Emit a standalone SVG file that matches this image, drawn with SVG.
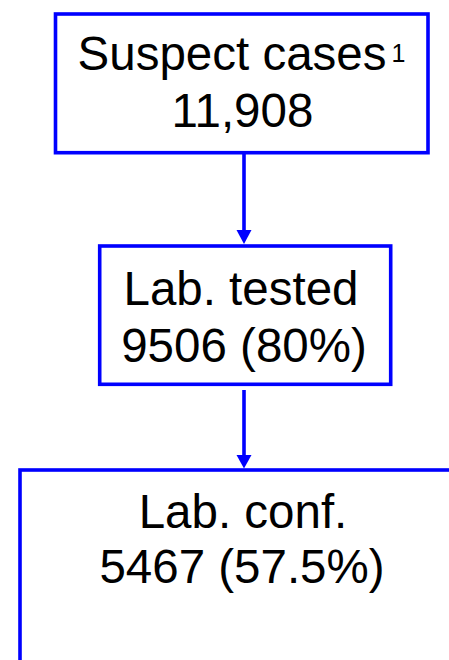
<svg xmlns="http://www.w3.org/2000/svg" width="449" height="660" viewBox="0 0 449 660">
<style>
.box{fill:#fff;stroke:#0000ff;stroke-width:3.6}
.lbl{font-family:"Liberation Sans",Arial,Helvetica,sans-serif;font-size:47.5px;fill:#000;text-anchor:middle}
.sup{font-size:25px}
.conn{stroke:#0000ff;stroke-width:3.6;fill:none}
.head{fill:#0000ff}
</style>
<rect width="449" height="660" fill="#fff"/>
<g id="node-suspect">
<rect class="box" x="55.5" y="14" width="372.5" height="138.7"/>
<text class="lbl" x="241.5" y="70">Suspect cases<tspan class="sup" dx="5" dy="-8">1</tspan></text>
<text class="lbl" x="242.5" y="127">11,908</text>
</g>
<g id="node-tested">
<rect class="box" x="99.7" y="246" width="291" height="138.3"/>
<text class="lbl" x="241" y="305">Lab. tested</text>
<text class="lbl" x="244" y="362">9506 (80%)</text>
</g>
<g id="node-confirmed">
<rect class="box" x="20" y="470" width="460" height="220"/>
<text class="lbl" x="243" y="528">Lab. conf.</text>
<text class="lbl" x="242" y="583">5467 (57.5%)</text>
</g>
<g id="connectors">
<line class="conn" x1="244" y1="154" x2="244" y2="232"/>
<polygon class="head" points="236.5,230 251.5,230 244,244"/>
<line class="conn" x1="244" y1="390" x2="244" y2="457"/>
<polygon class="head" points="236.5,455 251.5,455 244,468.5"/>
</g>
</svg>
